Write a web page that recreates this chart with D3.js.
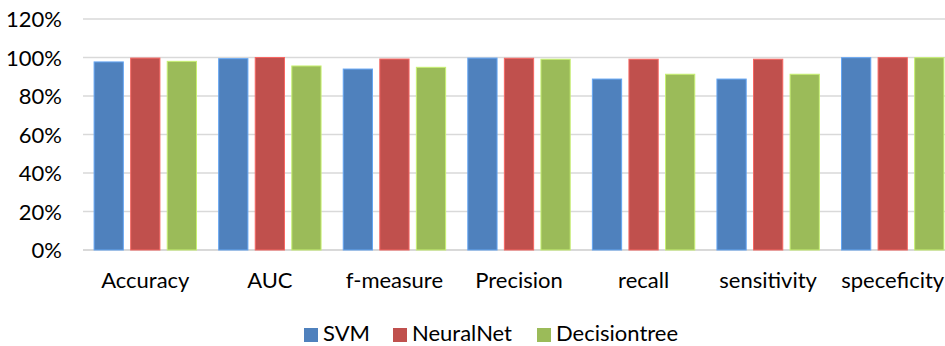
<!DOCTYPE html>
<html><head><meta charset="utf-8">
<script src="https://cdn.jsdelivr.net/npm/d3@7"></script>
<style>body{margin:0;background:#fff}svg{display:block}</style>
</head><body>
<svg id="chart" width="945" height="346"></svg>
<script>
const categories = ["Accuracy","AUC","f-measure","Precision","recall","sensitivity","speceficity"];
const seriesNames = ["SVM","NeuralNet","Decisiontree"];
const svmValues = [97.7, 99.4, 94.0, 99.7, 88.8, 88.8, 99.9];
const neuralNetValues = [99.7, 100, 99.2, 99.6, 99.1, 99.1, 99.9];
const decisionTreeValues = [98.0, 95.6, 94.9, 99.1, 91.3, 91.3, 99.9];
const yTicks = [0, 20, 40, 60, 80, 100, 120];
const colors = ["#4F81BD", "#C0504D", "#9BBB59"];

const series = [svmValues, neuralNetValues, decisionTreeValues];
const font = "Lato, 'Open Sans', sans-serif";
const fs = 22;
const svg = d3.select("#chart");
const margin = {left: 83, top: 19, right: -10, bottom: 96};
const W = 945, H = 346;
const x0 = d3.scaleBand().domain(categories).range([margin.left, W - margin.right]).paddingInner(0.178).paddingOuter(0.089);
const x1 = d3.scaleBand().domain(seriesNames).range([0, x0.bandwidth()]).paddingInner(0.2).paddingOuter(0);
const y = d3.scaleLinear().domain([0, 120]).range([250, 19]);

// gridlines
svg.append("g").selectAll("line").data(yTicks).join("line")
  .attr("x1", margin.left).attr("x2", W)
  .attr("y1", d => y(d)).attr("y2", d => y(d))
  .attr("stroke", "#d9d9d9").attr("stroke-width", d => d === 0 ? 2 : 1.6);

// y axis labels
const yAxis = svg.append("g").attr("transform", "translate(62,0)")
  .call(d3.axisLeft(y).tickValues(yTicks).tickFormat(d => d + "%").tickSize(0).tickPadding(0));
yAxis.select(".domain").remove();
yAxis.selectAll("text").attr("font-family", font).attr("font-size", fs).attr("fill", "#000").attr("dy", "0.36em");

// bars
const groups = svg.append("g").selectAll("g").data(categories).join("g")
  .attr("transform", d => `translate(${x0(d)},0)`);
groups.selectAll("rect").data((c, i) => seriesNames.map((s, j) => ({s, v: series[j][i], j})))
  .join("rect")
  .attr("x", d => x1(d.s))
  .attr("width", x1.bandwidth())
  .attr("y", d => y(d.v))
  .attr("height", d => y(0) - y(d.v))
  .attr("fill", d => colors[d.j])
  .attr("stroke", d => d3.color(colors[d.j]).brighter(0.7))
  .attr("stroke-width", 1);

// x axis labels
const xAxis = svg.append("g").attr("transform", "translate(0,250)")
  .call(d3.axisBottom(x0).tickSize(0).tickPadding(0));
xAxis.select(".domain").remove();
xAxis.selectAll("text").attr("font-family", font).attr("font-size", fs).attr("fill", "#000")
  .attr("dy", null).attr("y", 38);

// legend
const legendX = [304, 393, 537];
const lg = svg.append("g").selectAll("g").data(seriesNames).join("g")
  .attr("transform", (d, i) => `translate(${legendX[i]},328)`);
lg.append("rect").attr("width", 14).attr("height", 14).attr("fill", (d, i) => colors[i]);
lg.append("text").attr("x", 19).attr("y", 13).text(d => d)
  .attr("font-family", font).attr("font-size", fs).attr("fill", "#000");
</script>
</body></html>
